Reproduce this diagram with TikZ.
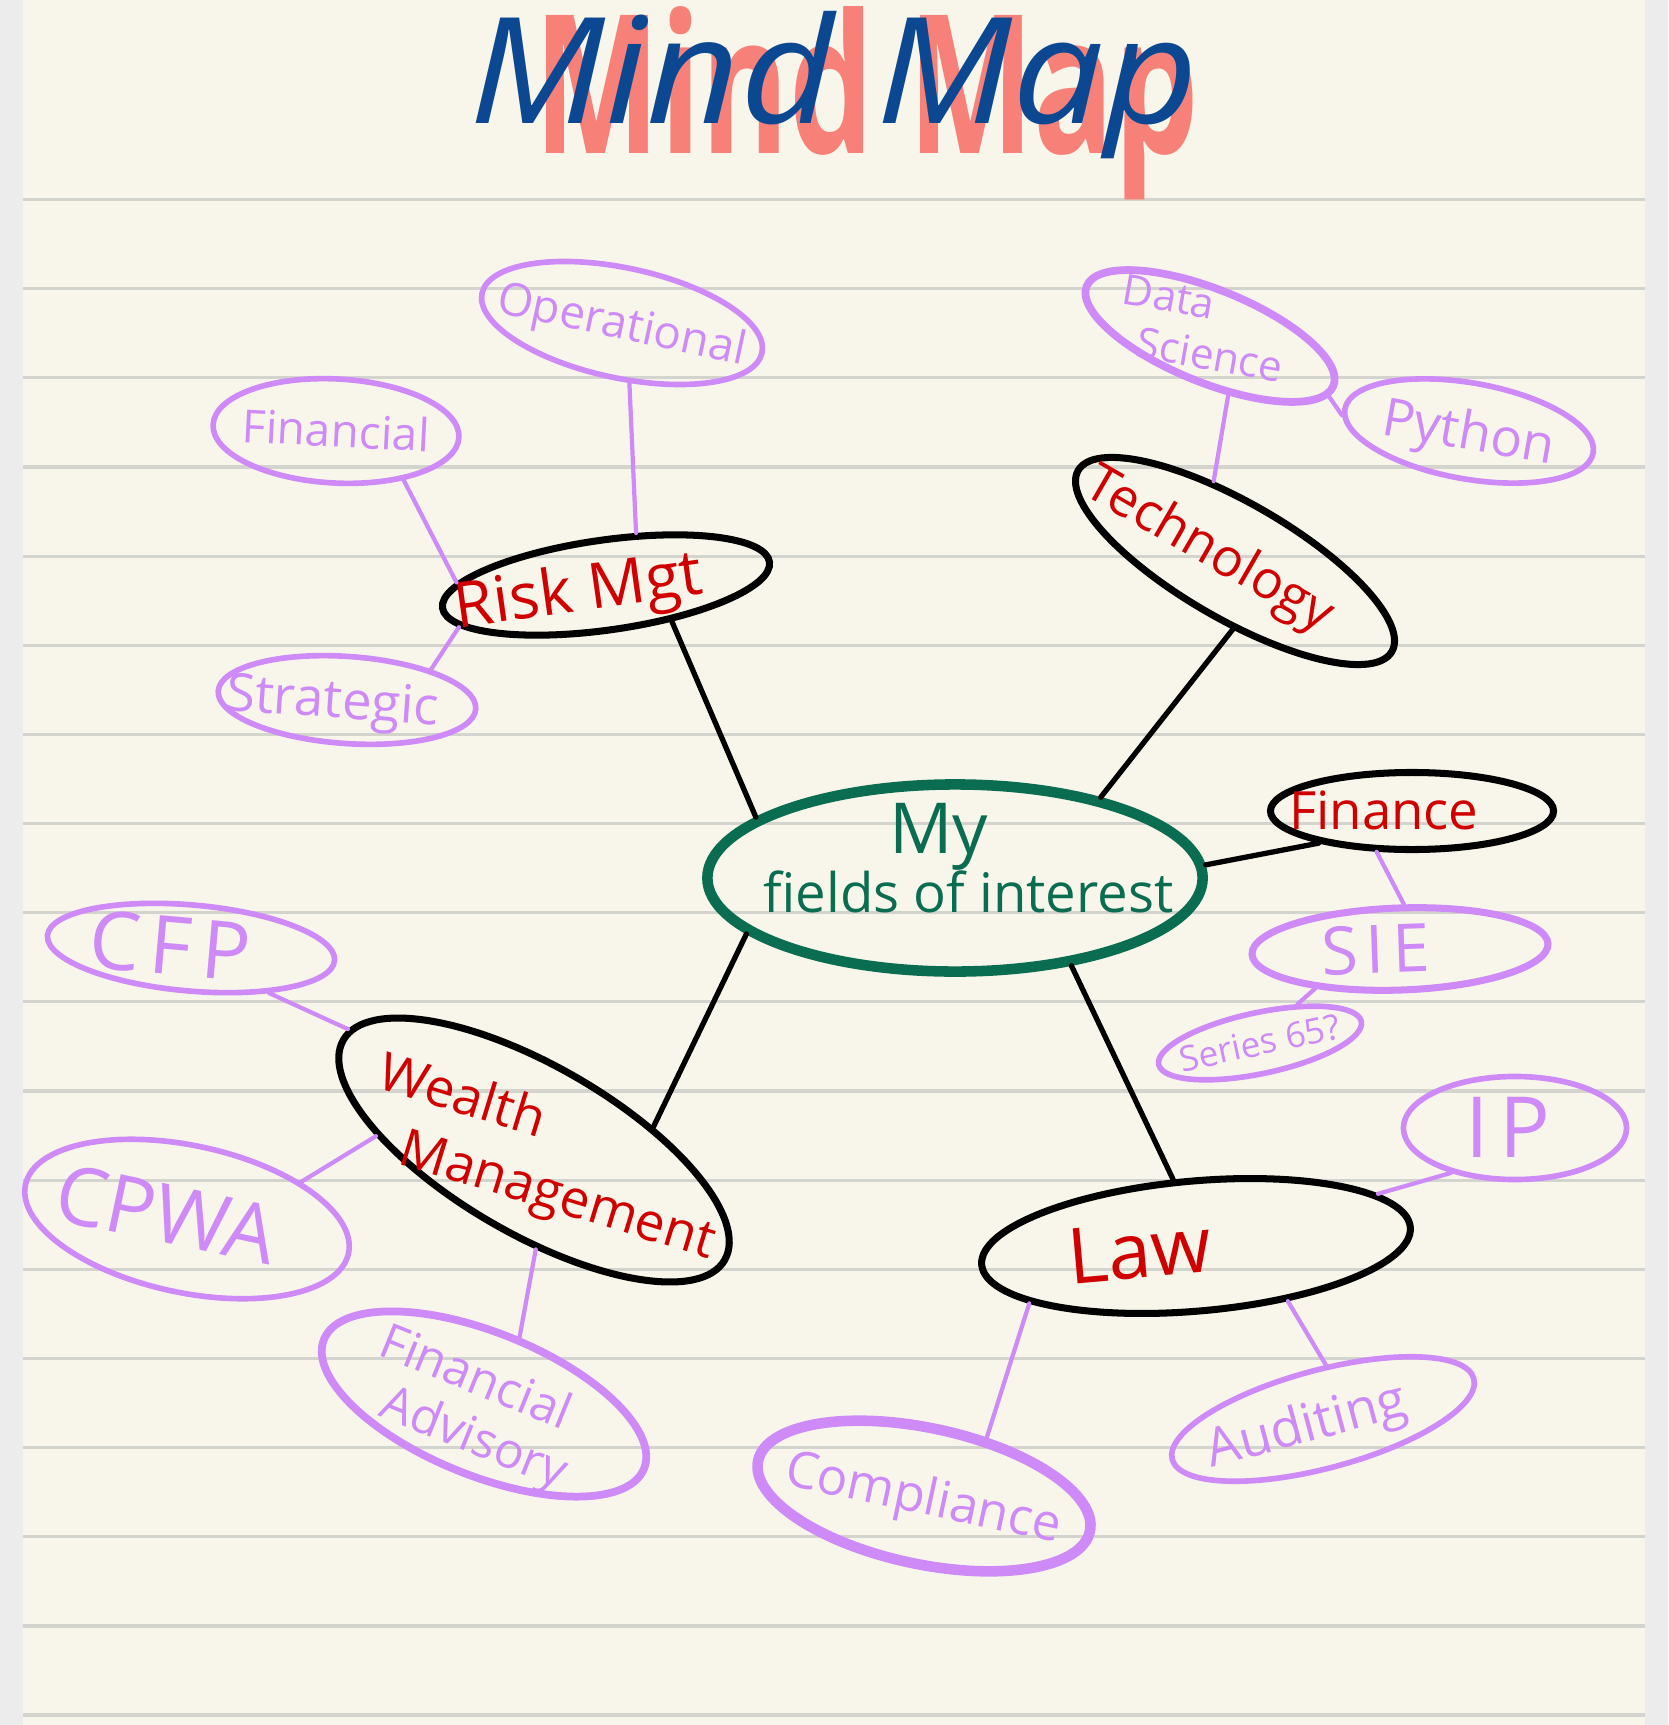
\documentclass[tikz,border=0pt]{standalone}
\usepackage{fontspec}
\setmainfont{Open Sans}
\usepackage{graphicx}
\usetikzlibrary{shapes.geometric,positioning}

\definecolor{paper}{RGB}{248,246,234}
\definecolor{paperedge}{RGB}{236,236,236}
\definecolor{ruleline}{RGB}{212,212,206}
\definecolor{titleblue}{RGB}{12,72,146}
\definecolor{salmon}{RGB}{247,128,120}
\definecolor{hubgreen}{RGB}{10,108,80}
\definecolor{topicred}{RGB}{208,0,0}
\definecolor{lilac}{RGB}{206,138,246}

% text that does not widen its ellipse: [x shift]{text}
\newcommand{\inlabel}[2][0pt]{\makebox[0pt]{\hspace*{#1}\hspace*{#1}\raisebox{-0.35em}[0pt][0pt]{#2}}}
% one line of a label: {x}{y}{turn}{text}
\newcommand{\placed}[4]{\makebox[0pt]{\hspace*{#1}\hspace*{#1}\raisebox{\dimexpr#2-0.35em\relax}[0pt][0pt]{\rotatebox[origin=c]{#3}{#4}}}}

\begin{document}
\begin{tikzpicture}[x=0.01cm, y=-0.01cm,
  hub/.style={ellipse, draw=hubgreen, line width=3pt, text=hubgreen, inner sep=0pt},
  topic/.style={ellipse, draw=black, line width=2pt, text=topicred, inner sep=0pt},
  leaf/.style={ellipse, draw=lilac, line width=1.6pt, text=lilac, inner sep=0pt},
  spaced/.style={font=\fontsize{#1}{#1}\selectfont\addfontfeature{LetterSpace=12}},
  trunk/.style={draw=black, line width=1.5pt, line cap=round},
  twig/.style={draw=lilac, line width=1.2pt, line cap=round}]

  % Page
  \fill[paperedge] (0,0) rectangle (1668,1725);
  \fill[paper] (23,0) rectangle (1645,1725);
  \useasboundingbox (0,0) rectangle (1668,1725);

  % Ruled lines
  \foreach \k in {0,...,17}
    \draw[ruleline, line width=0.9pt] (23,{199.5+89.15*\k}) -- (1645,{199.5+89.15*\k});

  % Title
  \node[text=salmon, font=\fontsize{55}{60}\selectfont\bfseries, anchor=base] (titleback) at (867,154) {\scalebox{0.69}[1]{Mind Map}};
  \node[text=titleblue, font=\fontsize{42}{46}\selectfont\itshape, anchor=base] (titlefront) at (834,124) {\scalebox{1.1}[1]{Mind Map}};

  % Centre
  \node[hub, minimum width=4.95cm, minimum height=1.87cm, font=\fontsize{15.5}{17}\selectfont] (interest) at (955,878)
    {\placed{-4.7pt}{12.5pt}{0}{\fontsize{20}{22}\selectfont My}\placed{3.8pt}{-4.5pt}{0}{fields of interest}};

  % Topics
  \node[topic, minimum width=3.3cm, minimum height=0.9cm, rotate=8, font=\fontsize{18}{20}\selectfont] (riskmgt) at (606,585) {\inlabel[-8pt]{Risk Mgt}};
  \node[topic, minimum width=3.62cm, minimum height=1.16cm, rotate=-30, font=\fontsize{15}{17}\selectfont] (technology) at (1235,561) {\inlabel[-8pt]{Technology}};
  \node[topic, minimum width=2.83cm, minimum height=0.77cm, font=\fontsize{15}{17}\selectfont] (finance) at (1412,811) {\inlabel[-8pt]{Finance}};
  \node[topic, minimum width=4.4cm, minimum height=1.68cm, rotate=-30, font=\fontsize{15}{16}\selectfont] (wealth) at (534,1150)
    {\placed{-25.5pt}{3.4pt}{13}{Wealth}\placed{12.5pt}{-7.2pt}{13}{Management}};
  \node[topic, minimum width=4.3cm, minimum height=1.3cm, rotate=5, font=\fontsize{22}{24}\selectfont] (law) at (1196,1246) {\inlabel[-16pt]{Law}};

  % Leaves
  \node[leaf, minimum width=2.86cm, minimum height=1.1cm, rotate=-12, font=\fontsize{13}{15}\selectfont] (operational) at (622,323) {\inlabel{Operational}};
  \node[leaf, minimum width=2.46cm, minimum height=1.04cm, rotate=-3, font=\fontsize{13}{15}\selectfont] (financial) at (336,431) {\inlabel{Financial}};
  \node[leaf, minimum width=2.58cm, minimum height=0.87cm, rotate=-4, font=\fontsize{15}{17}\selectfont] (strategic) at (347,700) {\inlabel[-4pt]{Strategic}};
  \node[leaf, line width=2.2pt, minimum width=2.66cm, minimum height=0.93cm, rotate=-22, font=\fontsize{12}{13}\selectfont] (datasci) at (1210,336)
    {\placed{-15pt}{6pt}{12}{Data}\placed{2pt}{-5pt}{12}{Science}};
  \node[leaf, minimum width=2.52cm, minimum height=0.96cm, rotate=-10, font=\fontsize{15}{17}\selectfont] (python) at (1469,431) {\inlabel{Python}};
  \node[leaf, line width=2pt, minimum width=2.96cm, minimum height=0.82cm, rotate=2, spaced=19] (sie) at (1400,949) {\inlabel[-7pt]{SIE}};
  \node[leaf, minimum width=2.07cm, minimum height=0.61cm, rotate=12, font=\fontsize{10}{12}\selectfont] (series) at (1260,1043) {\inlabel{Series 65?}};
  \node[leaf, minimum width=2.23cm, minimum height=1.03cm, spaced=24] (ip) at (1515,1128) {\inlabel[-2pt]{IP}};
  \node[leaf, minimum width=3.12cm, minimum height=0.98cm, rotate=15, font=\fontsize{15}{17}\selectfont] (auditing) at (1323,1419) {\inlabel[-5pt]{Auditing}};
  \node[leaf, line width=3pt, minimum width=3.39cm, minimum height=1.36cm, rotate=-12, font=\fontsize{14.5}{16}\selectfont] (compliance) at (924,1496) {\inlabel{Compliance}};
  \node[leaf, line width=2.2pt, minimum width=3.45cm, minimum height=1.43cm, rotate=-22, font=\fontsize{14}{15}\selectfont] (advisory) at (484,1404)
    {\placed{-5pt}{6.5pt}{0}{Financial}\placed{1pt}{-9.5pt}{0}{Advisory}};
  \node[leaf, minimum width=3.3cm, minimum height=1.47cm, rotate=-12, font=\fontsize{23}{25}\selectfont] (cpwa) at (187,1219) {\inlabel[-6pt]{CPWA}};
  \node[leaf, minimum width=2.88cm, minimum height=0.86cm, rotate=-5, spaced=23] (cfp) at (191,948) {\inlabel[-6pt]{CFP}};

  % Branches
  \draw[trunk] (riskmgt.-37) -- (interest.163);
  \draw[trunk] (technology.-62) -- (interest.29);
  \draw[trunk] (interest.3) -- (finance.199);
  \draw[trunk] (interest.195) -- (wealth.41);
  \draw[trunk] (interest.-37) -- (law.104);

  % Sub-branches
  \draw[twig] (riskmgt.52) -- (operational.-71);
  \draw[twig] (riskmgt.171) -- (financial.-33);
  \draw[twig] (riskmgt.188) -- (strategic.24);
  \draw[twig] (technology.135) -- (datasci.-51);
  \draw[twig] (datasci.-5) -- (python.183);
  \draw[twig] (finance.229) -- (sie.83);
  \draw[twig] (sie.203) -- (series.34);
  \draw[twig] (law.11) -- (ip.215);
  \draw[twig] (law.-36) -- (auditing.72);
  \draw[twig] (law.194) -- (compliance.55);
  \draw[twig] (wealth.-59) -- (advisory.84);
  \draw[twig] (wealth.205) -- (cpwa.30);
  \draw[twig] (wealth.177) -- (cfp.-25);
\end{tikzpicture}
\end{document}
